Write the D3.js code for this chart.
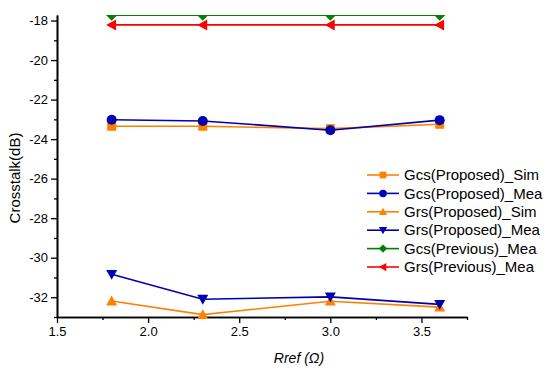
<!DOCTYPE html>
<html>
<head>
<meta charset="utf-8">
<script src="https://cdn.jsdelivr.net/npm/d3@7"></script>
<style>
    body { margin: 0; background: #fff; }
    svg { display: block; font-family: Arial, "Liberation Sans", sans-serif; }
</style>
</head>
<body>
<svg width="550" height="370"></svg>
<script>
const rref = [1.8, 2.3, 3.0, 3.6];
const gcsPropSim = [-23.35, -23.35, -23.47, -23.25];
const gcsPropMea = [-23.02, -23.08, -23.55, -23.04];
const grsPropSim = [-32.19, -32.88, -32.2, -32.5];
const grsPropMea = [-30.84, -32.1, -31.98, -32.36];
const gcsPrevMea = [-17.73, -17.73, -17.73, -17.73];
const grsPrevMea = [-18.22, -18.22, -18.22, -18.22];
const yTicks = [-32, -30, -28, -26, -24, -22, -20, -18];
const xTicks = [1.5, 2.0, 2.5, 3.0, 3.5];

const series = [
    {name: "Gcs(Proposed)_Sim", values: gcsPropSim, color: "#ff8000", marker: "square"},
    {name: "Gcs(Proposed)_Mea", values: gcsPropMea, color: "#0000b0", marker: "circle"},
    {name: "Grs(Proposed)_Sim", values: grsPropSim, color: "#ff8000", marker: "up"},
    {name: "Grs(Proposed)_Mea", values: grsPropMea, color: "#0000b0", marker: "down"},
    {name: "Gcs(Previous)_Mea", values: gcsPrevMea, color: "#008000", marker: "diamond"},
    {name: "Grs(Previous)_Mea", values: grsPrevMea, color: "#ff0000", marker: "left"}
];

const plotLeft = 57, plotRight = 467, plotTop = 15, plotBottom = 317;
const svg = d3.select("svg");
let x = d3.scaleLinear().domain([1.5, 3.75]).range([plotLeft, plotRight]);
let y = d3.scaleLinear().domain([-33, -17.72]).range([plotBottom, plotTop]);

svg.append("clipPath")
    .attr("id", "plotClip")
    .append("rect")
    .attr("x", 0)
    .attr("y", plotTop)
    .attr("width", 550)
    .attr("height", 370 - plotTop);

function markerPath(type) {
    let s = 5.5;
    if (type === "square") return `M${-s + 1},${-s + 1}H${s - 1}V${s - 1}H${-s + 1}Z`;
    if (type === "up") return `M0,${-s}L${s},${s * 0.8}L${-s},${s * 0.8}Z`;
    if (type === "down") return `M0,${s}L${s},${-s * 0.8}L${-s},${-s * 0.8}Z`;
    if (type === "diamond") return `M0,${-s}L${s},0L0,${s}L${-s},0Z`;
    if (type === "left") return `M${-s},0L${s * 0.8},${-s}L${s * 0.8},${s}Z`;
    return null;
}
function drawMarker(g, type, color) {
    if (type === "circle") {
        g.append("circle").attr("r", 5).attr("fill", color);
    } else {
        g.append("path").attr("d", markerPath(type)).attr("fill", color);
    }
}

// axes
let yAxis = svg.append("g")
    .attr("transform", "translate(" + plotLeft + ",0)")
    .call(d3.axisLeft(y).tickValues(yTicks).tickSize(6).tickSizeOuter(0));
let yMinor = svg.append("g")
    .attr("transform", "translate(" + plotLeft + ",0)")
    .call(d3.axisLeft(y).tickValues(d3.range(-33, -17, 2)).tickFormat("").tickSize(3).tickSizeOuter(0));
let xAxis = svg.append("g")
    .attr("transform", "translate(0," + plotBottom + ")")
    .call(d3.axisBottom(x).tickValues(xTicks).tickFormat(d3.format(".1f")).tickSize(6).tickSizeOuter(0));
let xMinor = svg.append("g")
    .attr("transform", "translate(0," + plotBottom + ")")
    .call(d3.axisBottom(x).tickValues([1.75, 2.25, 2.75, 3.25, 3.75]).tickFormat("").tickSize(3).tickSizeOuter(0));
[yAxis, yMinor, xAxis, xMinor].forEach(a => {
    a.selectAll("line").attr("stroke", "#000").attr("stroke-width", 1.3);
    a.select(".domain").attr("stroke", "#000").attr("stroke-width", 1.6);
    a.selectAll("text").attr("fill", "#000").style("font-size", "13px");
});
yAxis.selectAll("text").attr("x", -9).text(d => String(d));
xAxis.selectAll("text").attr("y", 10);

svg.append("text")
    .attr("transform", "translate(20,178) rotate(-90)")
    .attr("text-anchor", "middle")
    .style("font-size", "15px")
    .text("Crosstalk(dB)");
svg.append("text")
    .attr("x", 299)
    .attr("y", 363)
    .attr("text-anchor", "middle")
    .style("font-size", "14px")
    .style("font-style", "italic")
    .text("Rref (Ω)");

// series
let plot = svg.append("g").attr("clip-path", "url(#plotClip)");
let line = d3.line().x((d, i) => x(rref[i])).y(d => y(d));
series.forEach(s => {
    plot.append("path")
        .datum(s.values)
        .attr("d", line)
        .attr("fill", "none")
        .attr("stroke", s.color)
        .attr("stroke-width", 1.6);
    s.values.forEach((v, i) => {
        let g = plot.append("g").attr("transform", "translate(" + x(rref[i]) + "," + y(v) + ")");
        drawMarker(g, s.marker, s.color);
    });
});

// legend
let legend = svg.append("g").attr("transform", "translate(367,175)");
series.forEach((s, i) => {
    let row = legend.append("g").attr("transform", "translate(0," + (i * 18.4) + ")");
    row.append("line").attr("x1", 0).attr("x2", 32).attr("stroke", s.color).attr("stroke-width", 1.6);
    let m = row.append("g").attr("transform", "translate(16,0) scale(0.75)");
    drawMarker(m, s.marker, s.color);
    row.append("text")
        .attr("x", 37)
        .attr("y", 0)
        .attr("dy", "0.35em")
        .style("font-size", "15px")
        .text(s.name);
});
</script>
</body>
</html>
